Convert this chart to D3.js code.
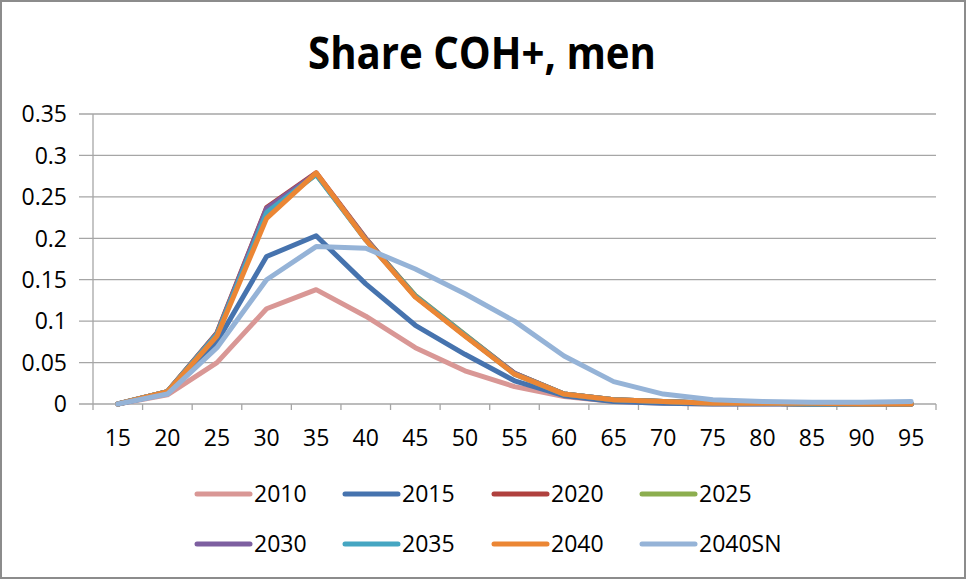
<!DOCTYPE html>
<html>
<head>
<meta charset="utf-8">
<script src="https://cdn.jsdelivr.net/npm/d3@7"></script>
<style>
  body { margin: 0; background: #fff; }
  svg { display: block; }
  text { font-family: "Open Sans", "Noto Sans", sans-serif; fill: #000; }
</style>
</head>
<body>
<svg id="chart" width="966" height="579"></svg>
<script>
const ages = ["15","20","25","30","35","40","45","50","55","60","65","70","75","80","85","90","95"];
const yTicks = [0, 0.05, 0.1, 0.15, 0.2, 0.25, 0.3, 0.35];
const seriesNames = ["2010","2015","2020","2025","2030","2035","2040","2040SN"];
const s2010   = [0, 0.011, 0.050, 0.115, 0.138, 0.106, 0.068, 0.040, 0.021, 0.009, 0.003, 0.001, 0, 0, 0, 0, 0];
const s2015   = [0, 0.013, 0.075, 0.178, 0.203, 0.145, 0.095, 0.060, 0.028, 0.010, 0.003, 0.001, 0, 0, 0, 0, 0];
const s2020   = [0, 0.015, 0.086, 0.237, 0.279, 0.200, 0.130, 0.083, 0.037, 0.012, 0.005, 0.003, 0.001, 0.001, 0, 0, 0];
const s2025   = [0, 0.015, 0.085, 0.234, 0.277, 0.199, 0.131, 0.084, 0.037, 0.012, 0.005, 0.003, 0.001, 0.001, 0, 0, 0];
const s2030   = [0, 0.015, 0.085, 0.236, 0.278, 0.199, 0.130, 0.083, 0.037, 0.012, 0.005, 0.003, 0.001, 0.001, 0, 0, 0];
const s2035   = [0, 0.015, 0.084, 0.231, 0.277, 0.198, 0.130, 0.083, 0.036, 0.012, 0.005, 0.003, 0.001, 0.001, 0, 0, 0];
const s2040   = [0, 0.015, 0.082, 0.224, 0.279, 0.198, 0.129, 0.082, 0.036, 0.012, 0.005, 0.003, 0.001, 0.001, 0.001, 0, 0];
const s2040SN = [0, 0.012, 0.068, 0.150, 0.190, 0.188, 0.163, 0.133, 0.100, 0.058, 0.027, 0.012, 0.005, 0.003, 0.002, 0.002, 0.003];
const seriesValues = [s2010, s2015, s2020, s2025, s2030, s2035, s2040, s2040SN];
const colors = ["#D99795", "#4673AE", "#B0413E", "#8CAE4F", "#7D5FA0", "#45A6C2", "#EB8634", "#95B3D7"];
const drawOrder = [0, 1, 2, 3, 4, 5, 6, 7];

const svg = d3.select("#chart");
const W = 966, H = 579;
svg.append("rect").attr("x", 1).attr("y", 1).attr("width", W - 2).attr("height", H - 2)
  .attr("fill", "#fff").attr("stroke", "#8c8c8c").attr("stroke-width", 2);

const pLeft = 93, pRight = 936, pTop = 114, pBottom = 404;
const x = d3.scalePoint().domain(ages).range([pLeft, pRight]).padding(0.5);
const y = d3.scaleLinear().domain([0, 0.35]).range([pBottom, pTop]);

// gridlines
svg.append("g").selectAll("line").data(yTicks).join("line")
  .attr("x1", 79).attr("x2", pRight).attr("y1", d => y(d)).attr("y2", d => y(d))
  .attr("stroke", "#a6a6a6").attr("stroke-width", 1.3);

// y axis line
svg.append("line").attr("x1", pLeft).attr("x2", pLeft).attr("y1", pTop).attr("y2", pBottom)
  .attr("stroke", "#a6a6a6").attr("stroke-width", 1.3);

// y labels
svg.append("g").selectAll("text").data(yTicks).join("text")
  .attr("x", 67).attr("y", d => y(d)).attr("dy", "0.36em")
  .attr("text-anchor", "end").attr("font-size", 23)
  .text(d => String(+d.toFixed(2)));

// x tick marks
svg.append("g").selectAll("line").data(ages).join("line")
  .attr("x1", d => x(d) - x.step() / 2).attr("x2", d => x(d) - x.step() / 2)
  .attr("y1", pBottom).attr("y2", pBottom + 6).attr("stroke", "#a6a6a6").attr("stroke-width", 1.3);
svg.append("line").attr("x1", pRight).attr("x2", pRight).attr("y1", pBottom).attr("y2", pBottom + 6)
  .attr("stroke", "#a6a6a6").attr("stroke-width", 1.3);

// x labels
svg.append("g").selectAll("text").data(ages).join("text")
  .attr("x", d => x(d)).attr("y", 438).attr("dy", "0.36em")
  .attr("text-anchor", "middle").attr("font-size", 23)
  .text(d => d);

// lines
const line = d3.line().x((d, i) => x(ages[i])).y(d => y(d));
svg.append("g").selectAll("path").data(drawOrder).join("path")
  .attr("d", i => line(seriesValues[i]))
  .attr("fill", "none").attr("stroke", i => colors[i]).attr("stroke-width", 5)
  .attr("stroke-linejoin", "round").attr("stroke-linecap", "round");

// title
svg.append("text").attr("x", 482).attr("y", 69).attr("text-anchor", "middle")
  .attr("font-size", 44).attr("font-weight", "bold")
  .attr("textLength", 348).attr("lengthAdjust", "spacingAndGlyphs")
  .text("Share COH+, men");

// legend
const legX = [196, 344, 493, 641], legY = [494, 544];
const leg = svg.append("g").selectAll("g").data(seriesNames).join("g")
  .attr("transform", (d, i) => `translate(${legX[i % 4]},${legY[Math.floor(i / 4)]})`);
leg.append("line").attr("x1", 1).attr("x2", 54).attr("y1", 0).attr("y2", 0)
  .attr("stroke", (d, i) => colors[i]).attr("stroke-width", 5).attr("stroke-linecap", "round");
leg.append("text").attr("x", 58).attr("y", 0).attr("dy", "0.36em").attr("font-size", 23)
  .text(d => d);
</script>
</body>
</html>
